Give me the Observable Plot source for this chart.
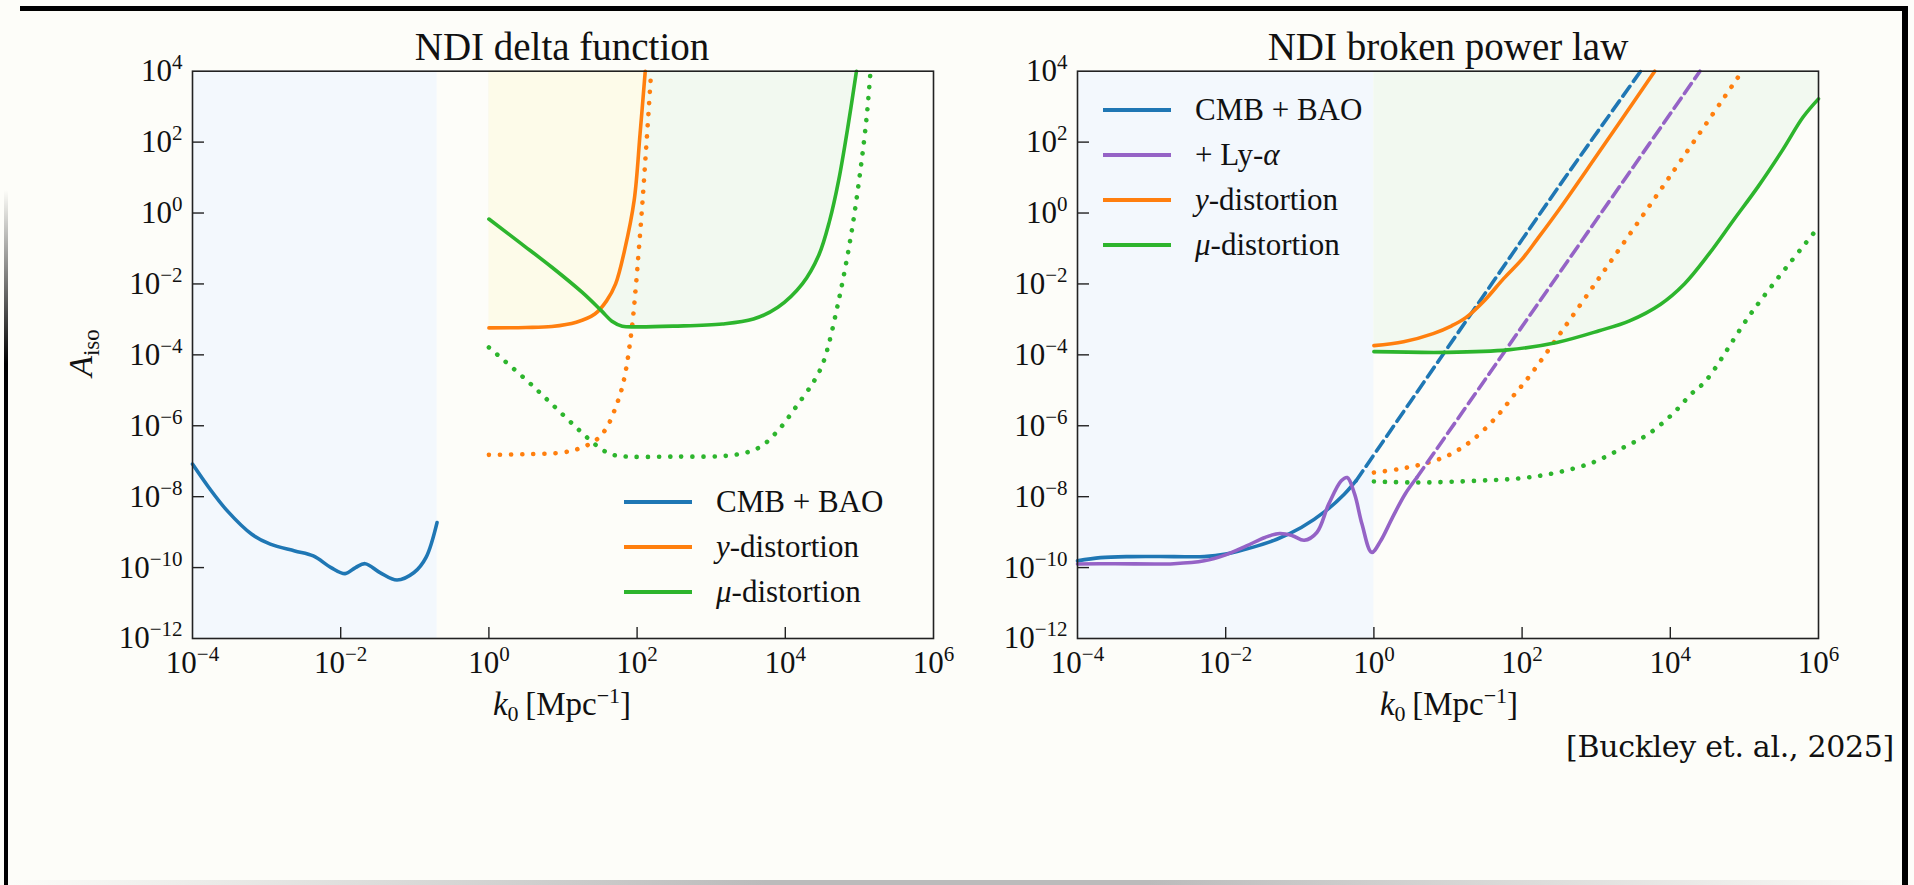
<!DOCTYPE html>
<html>
<head>
<meta charset="utf-8">
<script src="https://cdn.jsdelivr.net/npm/d3@7"></script>
<script src="https://cdn.jsdelivr.net/npm/@observablehq/plot@0.6"></script>
<style>
  html, body { margin: 0; padding: 0; }
  body { width: 1914px; height: 885px; overflow: hidden; position: relative; background: #fdfdf9; font-family: "Liberation Serif", "DejaVu Serif", serif; color: #111; }
  .abs { position: absolute; }
  .title { font-size: 39px; white-space: nowrap; transform: translate(-50%, -50%); }
  .xlabel { font-size: 33px; white-space: nowrap; transform: translate(-50%, -50%); }
  .xlabel sub { font-size: 22px; vertical-align: -6px; }
  .xlabel sup { font-size: 22px; vertical-align: 12px; }
  .ylabel { font-size: 34px; white-space: nowrap; transform: translate(-50%, -50%) rotate(-90deg); }
  .ylabel sub { font-size: 23px; font-style: normal; vertical-align: -7px; }
  .legend { font-size: 31px; }
  .legend .row { position: absolute; white-space: nowrap; transform: translateY(-50%); display: flex; align-items: center; }
  .legend svg { display: block; }
  .caption { font-family: "DejaVu Serif", serif; font-size: 30px; white-space: nowrap; transform: translateY(-50%); letter-spacing: -0.3px; }
</style>
</head>
<body>
<script>
// ---------------- DATA (log10 k0 [Mpc^-1], log10 A_iso) ----------------
// Panel 1: NDI delta function
const deltaCmbBao = [[-4,-7.08],[-3.78,-7.74],[-3.53,-8.40],[-3.2,-9.06],[-2.95,-9.34],[-2.62,-9.53],[-2.37,-9.67],[-2.13,-10.0],[-1.94,-10.17],[-1.8,-10.0],[-1.67,-9.89],[-1.47,-10.14],[-1.24,-10.35],[-1.01,-10.14],[-0.85,-9.72],[-0.70,-8.73]];
const deltaY = [[0,-3.24],[0.5,-3.23],[0.85,-3.2],[1.18,-3.08],[1.43,-2.85],[1.59,-2.47],[1.71,-2.0],[1.83,-1.06],[1.96,0.35],[2.04,2.23],[2.11,4.0]];
const deltaYDotted = [[0,-6.82],[0.5,-6.80],[1.01,-6.75],[1.26,-6.61],[1.46,-6.38],[1.59,-6.05],[1.71,-5.48],[1.81,-4.82],[1.92,-3.41],[2.04,-0.59],[2.12,1.76],[2.19,4.0]];
const deltaMu = [[0,-0.17],[0.44,-0.87],[0.85,-1.53],[1.26,-2.24],[1.52,-2.76],[1.66,-3.05],[1.8,-3.19],[2.0,-3.21],[2.49,-3.19],[3.15,-3.13],[3.57,-2.99],[3.90,-2.66],[4.23,-2.0],[4.45,-1.2],[4.6,-0.2],[4.72,0.92],[4.85,2.5],[4.96,4.0]];
const deltaMuDotted = [[0,-3.79],[0.5,-4.7],[0.85,-5.39],[1.18,-6.05],[1.43,-6.52],[1.6,-6.76],[1.75,-6.85],[2.49,-6.87],[3.32,-6.82],[3.65,-6.61],[3.90,-6.14],[4.14,-5.48],[4.39,-4.73],[4.52,-4.17],[4.72,-2.47],[4.89,-0.59],[5.01,1.15],[5.10,2.75],[5.15,4.0]];
const deltaCmbBand = [1e-4, 0.2];   // k range shaded for CMB + BAO

// Panel 2: NDI broken power law
const bplCmbBao = [[-4,-9.81],[-3.69,-9.72],[-3.28,-9.69],[-2.70,-9.69],[-2.29,-9.69],[-2.0,-9.62],[-1.64,-9.43],[-1.31,-9.20],[-0.98,-8.87],[-0.65,-8.40],[-0.40,-7.93],[-0.24,-7.55]];
const bplCmbBaoDashed = [[-0.24,-7.55],[0.5,-5.3],[1.5,-2.27],[2.5,0.76],[3.6,4.0]];
const bplLya = [[-4,-9.90],[-3.52,-9.89],[-2.70,-9.89],[-2.29,-9.81],[-2.0,-9.64],[-1.72,-9.39],[-1.47,-9.15],[-1.27,-9.04],[-1.10,-9.10],[-0.94,-9.23],[-0.77,-9.01],[-0.61,-8.21],[-0.44,-7.55],[-0.36,-7.46],[-0.26,-7.93],[-0.16,-8.78],[-0.03,-9.57],[0.09,-9.25],[0.25,-8.59],[0.42,-7.93],[0.58,-7.46]];
const bplLyaDashed = [[0.58,-7.46],[1.5,-4.7],[2.5,-1.7],[3.5,1.3],[4.4,4.0]];
const bplY = [[0,-3.74],[0.4,-3.63],[0.8,-3.4],[1.05,-3.18],[1.24,-2.95],[1.5,-2.45],[1.75,-1.85],[2.0,-1.3],[2.2,-0.75],[2.5,0.1],[3.0,1.6],[3.79,4.0]];
const bplYDotted = [[0,-7.32],[0.34,-7.22],[0.66,-7.08],[0.99,-6.85],[1.32,-6.42],[1.65,-5.76],[1.90,-5.11],[2.1,-4.6],[3.0,-1.95],[4.0,1.05],[4.97,4.0]];
const bplMu = [[0,-3.91],[0.99,-3.93],[1.81,-3.86],[2.47,-3.65],[3.04,-3.32],[3.45,-3.04],[3.87,-2.57],[4.19,-2.0],[4.52,-1.16],[4.85,-0.21],[5.18,0.73],[5.51,1.76],[5.79,2.70],[6.0,3.22]];
const bplMuDotted = [[0,-7.57],[0.58,-7.60],[1.40,-7.55],[1.98,-7.48],[2.47,-7.32],[2.96,-7.03],[3.37,-6.61],[3.70,-6.24],[4.03,-5.67],[4.28,-5.11],[4.48,-4.73],[5.1,-2.8],[6.0,-0.40]];
const bplCmbBand = [1e-4, 1];

// axes, titles, legends
const xTicks = [1e-4, 1e-2, 1e0, 1e2, 1e4, 1e6];
const yTicks = [1e-12, 1e-10, 1e-8, 1e-6, 1e-4, 1e-2, 1e0, 1e2, 1e4];
const titles = ["NDI delta function", "NDI broken power law"];
const legend1 = [["CMB + BAO", "blue"], ["<i>y</i>-distortion", "orange"], ["<i>μ</i>-distortion", "green"]];
const legend2 = [["CMB + BAO", "blue"], ["+ Ly-<i>α</i>", "purple"], ["<i>y</i>-distortion", "orange"], ["<i>μ</i>-distortion", "green"]];
const caption = "[Buckley et. al., 2025]";

const C = {blue: "#1f77b4", orange: "#ff7f0e", green: "#2db52d", purple: "#9563c6"};
const F = {blue: "#f3f8fd", yellow: "#fdfbe9", green: "#f2f9f0"};
const rows = pairs => pairs.map(([lk, la]) => ({k: 10 ** lk, A: 10 ** la}));
const fmt = d => "10^" + Math.round(Math.log10(d));

// geometry
const plotW = 741, plotH = 567.3, svgTop = 20, mTop = 50.7, mBottom = 52;
const LW = 3.6;

const solid = (data, color) => Plot.line(rows(data), {x: "k", y: "A", stroke: color, strokeWidth: LW, curve: "catmull-rom"});
const dashed = (data, color) => Plot.line(rows(data), {x: "k", y: "A", stroke: color, strokeWidth: LW, strokeDasharray: "12 6", curve: "catmull-rom"});
const dotted = (data, color) => Plot.line(rows(data), {x: "k", y: "A", stroke: color, strokeWidth: 4.6, strokeDasharray: "0.1 11", strokeLinecap: "round", curve: "catmull-rom"});
const fillAbove = (data, color) => Plot.areaY(rows(data), {x: "k", y1: "A", y2: 1e4, fill: color, curve: "catmull-rom"});
const band = (range, color) => Plot.rect([{x1: range[0], x2: range[1]}], {x1: "x1", x2: "x2", y1: 1e-12, y2: 1e4, fill: color});

function panel(marks, marginLeft, marginRight) {
  const svg = Plot.plot({
    width: marginLeft + plotW + marginRight,
    height: mTop + plotH + mBottom,
    marginLeft, marginRight, marginTop: mTop, marginBottom: mBottom,
    x: {type: "log", domain: [1e-4, 1e6], ticks: xTicks, tickFormat: fmt, tickSize: 0, tickPadding: 12, label: null},
    y: {type: "log", domain: [1e-12, 1e4], ticks: yTicks, tickFormat: fmt, tickSize: 0, tickPadding: 10, label: null},
    style: {background: "transparent", fontFamily: "'Liberation Serif', serif", fontSize: "31px", color: "#111", overflow: "visible"},
    marks: [
      ...marks,
      Plot.ruleX(xTicks.slice(1, -1), {stroke: "#222", strokeWidth: 1.4, insetTop: plotH - 11}),
      Plot.ruleY(yTicks.slice(1, -1), {stroke: "#222", strokeWidth: 1.4, insetRight: plotW - 12}),
      Plot.frame({stroke: "#222", strokeWidth: 1.6})
    ]
  });
  d3.select(svg).selectAll("text").each(function () {
    const m = /^10\^(.+)$/.exec(this.textContent);
    if (!m) return;
    const s = d3.select(this);
    s.text(null);
    s.append("tspan").text("10");
    s.append("tspan").attr("dy", "-12").attr("font-size", "21px").text(m[1].replace("-", "\u2212"));
  });
  return svg;
}

function place(el, left, top) {
  el.classList.add("abs");
  el.style.left = left + "px";
  el.style.top = top + "px";
  document.body.appendChild(el);
}
function html(cls, x, y, inner) {
  const d = document.createElement("div");
  d.className = "abs " + cls;
  d.style.left = x + "px"; d.style.top = y + "px";
  d.innerHTML = inner;
  document.body.appendChild(d);
  return d;
}

// ---- left panel ----
const left = panel([
  band(deltaCmbBand, F.blue),
  fillAbove(deltaMu, F.green),
  fillAbove(deltaY, F.yellow),
  solid(deltaCmbBao, C.blue),
  dotted(deltaYDotted, C.orange),
  dotted(deltaMuDotted, C.green),
  solid(deltaY, C.orange),
  solid(deltaMu, C.green)
], 132, 20);
place(left, 60, svgTop);

// ---- right panel ----
const right = panel([
  band(bplCmbBand, F.blue),
  fillAbove(bplMu, F.green),
  dotted(bplYDotted, C.orange),
  dotted(bplMuDotted, C.green),
  dashed(bplCmbBaoDashed, C.blue),
  dashed(bplLyaDashed, C.purple),
  solid(bplY, C.orange),
  solid(bplMu, C.green),
  solid(bplCmbBao, C.blue),
  solid(bplLya, C.purple)
], 117, 40);
place(right, 960, svgTop);

// ---- text ----
html("title", 562, 46, titles[0]);
html("title", 1448, 46, titles[1]);
html("xlabel", 562, 705, "<i>k</i><sub>0</sub>&#8201;[Mpc<sup>\u22121</sup>]");
html("xlabel", 1449, 705, "<i>k</i><sub>0</sub>&#8201;[Mpc<sup>\u22121</sup>]");
html("ylabel", 83, 353, "<i>A</i><sub>iso</sub>");
const cap = html("caption", 0, 746, caption);
cap.style.left = "auto"; cap.style.right = (1914 - 1894) + "px";

function legend(items, x, y0, dy) {
  const box = html("legend", 0, 0, "");
  items.forEach(([label, key], i) => {
    const r = document.createElement("div");
    r.className = "row";
    r.style.left = x + "px"; r.style.top = (y0 + i * dy) + "px";
    r.innerHTML = `<svg width="68" height="10"><line x1="0" x2="68" y1="5" y2="5" stroke="${C[key]}" stroke-width="4.2"/></svg><span style="margin-left:24px">${label}</span>`;
    box.appendChild(r);
  });
}
legend(legend1, 624, 502, 45);
legend(legend2, 1103, 110, 45);

// ---- slide frame ----
html("", 20, 6, "").style.cssText += "width:1888px;height:5px;background:#000;";
html("", 1902, 6, "").style.cssText += "width:6px;height:879px;background:#000;";
html("", 4, 190, "").style.cssText += "width:4px;height:695px;background:linear-gradient(#fff0,#000 25%);";
html("", 0, 880, "").style.cssText += "width:1914px;height:5px;background:linear-gradient(90deg,#fff0,#bbb 40%,#bbb 60%,#fff0);";
</script>
</body>
</html>
